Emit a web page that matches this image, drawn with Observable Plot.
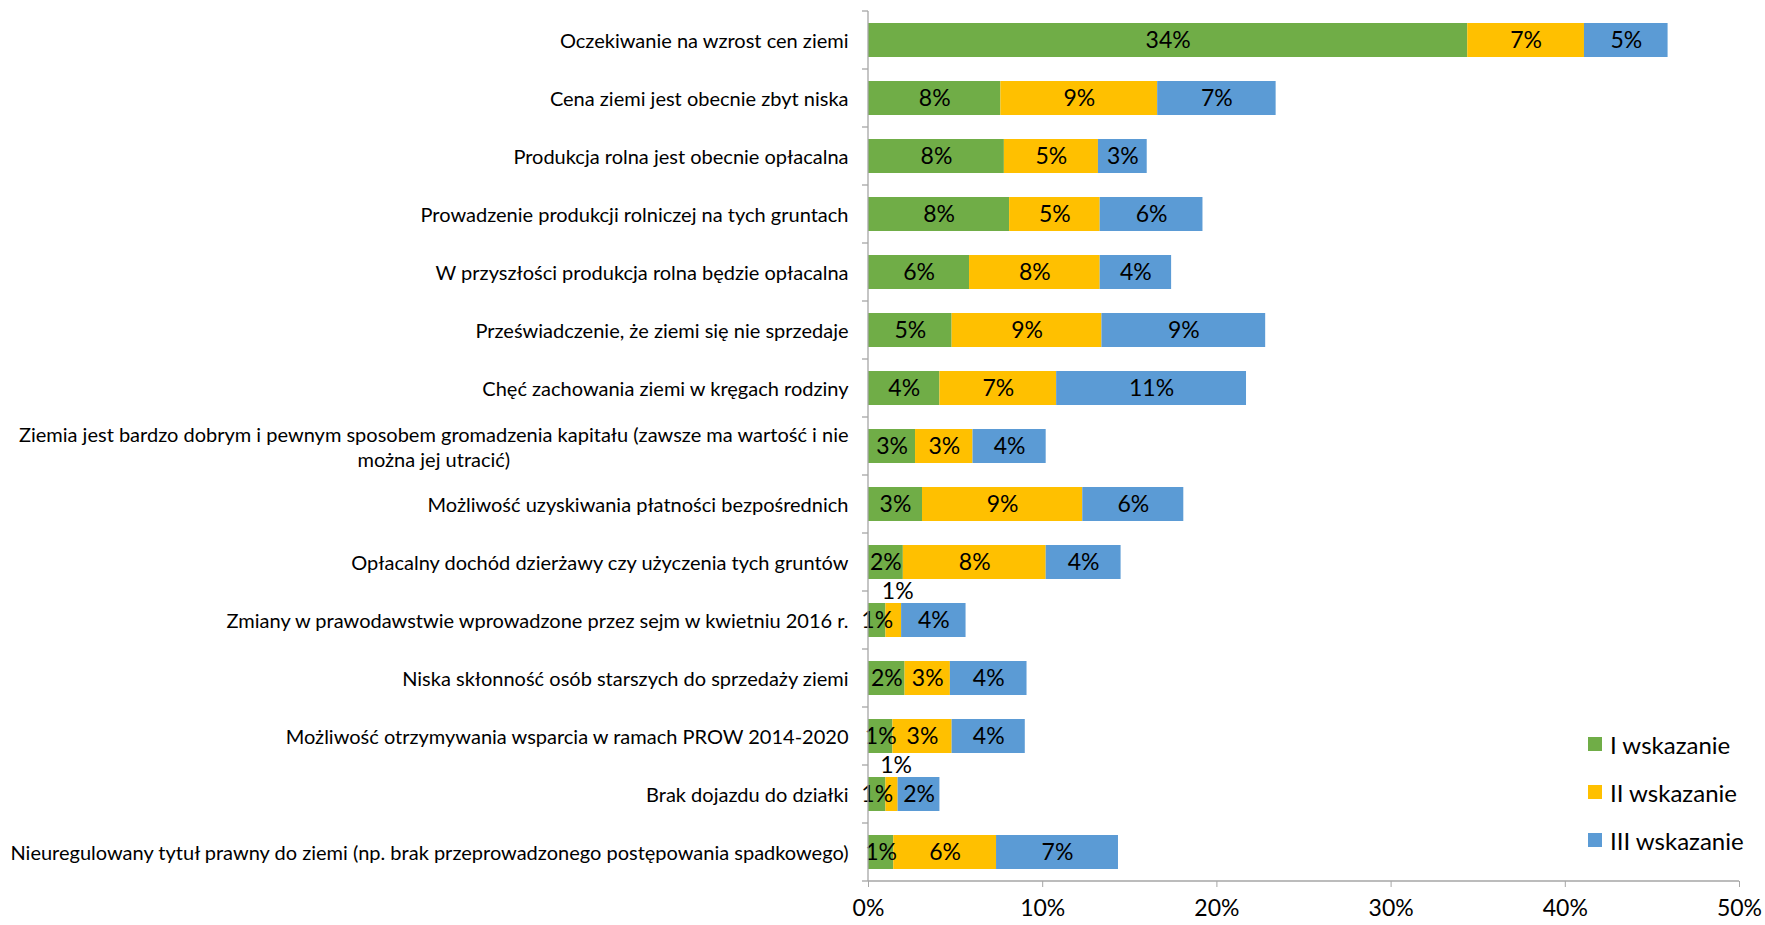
<!DOCTYPE html>
<html><head><meta charset="utf-8">
<script src="https://cdn.jsdelivr.net/npm/d3@7"></script>
<script src="https://cdn.jsdelivr.net/npm/@observablehq/plot@0.6"></script>
<style>
html,body{margin:0;padding:0;background:#fff;}
#wrap{position:relative;width:1765px;height:925px;font-family:Lato,"Open Sans",sans-serif;}
#legend{position:absolute;left:1588px;top:720px;font-size:24px;color:#000;}
.li{display:flex;align-items:center;height:48px;}
.sw{width:14px;height:14px;margin-right:8px;}
</style></head><body><div id="wrap"><div id="legend"></div></div>
<script>
const categories = [
  "Oczekiwanie na wzrost cen ziemi",
  "Cena ziemi jest obecnie zbyt niska",
  "Produkcja rolna jest obecnie opłacalna",
  "Prowadzenie produkcji rolniczej na tych gruntach",
  "W przyszłości produkcja rolna będzie opłacalna",
  "Przeświadczenie, że ziemi się nie sprzedaje",
  "Chęć zachowania ziemi w kręgach rodziny",
  "Ziemia jest bardzo dobrym i pewnym sposobem gromadzenia kapitału (zawsze ma wartość i nie\nmożna jej utracić)",
  "Możliwość uzyskiwania płatności bezpośrednich",
  "Opłacalny dochód dzierżawy czy użyczenia tych gruntów",
  "Zmiany w prawodawstwie wprowadzone przez sejm w kwietniu 2016 r.",
  "Niska skłonność osób starszych do sprzedaży ziemi",
  "Możliwość otrzymywania wsparcia w ramach PROW 2014-2020",
  "Brak dojazdu do działki",
  "Nieuregulowany tytuł prawny do ziemi (np. brak przeprowadzonego postępowania spadkowego)"
];
const seriesNames = ["I wskazanie", "II wskazanie", "III wskazanie"];
const seriesColors = ["#70AD47", "#FFC000", "#5B9BD5"];
const valuesI   = [34.4, 7.6, 7.8, 8.1, 5.8, 4.8, 4.1, 2.7, 3.1, 2.0, 1.0, 2.1, 1.4, 1.0, 1.45];
const valuesII  = [6.7, 9.0, 5.4, 5.2, 7.5, 8.6, 6.7, 3.3, 9.2, 8.2, 0.9, 2.6, 3.4, 0.7, 5.9];
const valuesIII = [4.8, 6.8, 2.8, 5.9, 4.1, 9.4, 10.9, 4.2, 5.8, 4.3, 3.7, 4.4, 4.2, 2.4, 7.0];
const xTicks = [0, 10, 20, 30, 40, 50];

const seriesValues = [valuesI, valuesII, valuesIII];
const data = [];
categories.forEach((c, i) => {
  seriesValues.forEach((arr, s) => data.push({cat: c, series: seriesNames[s], value: arr[i]}));
});
const fmt = v => Math.round(v) + "%";
const isAbove = d => d.series === seriesNames[1] && d.value < 1;

const axisGray = "#A6A6A6";
const axisLines = (index, scales, values, dims) => {
  const g = d3.create("svg:g").attr("stroke", axisGray).attr("stroke-width", 1.3);
  const x0 = scales.x(0), x1 = scales.x(xTicks[xTicks.length - 1]);
  const top = dims.marginTop, bottom = dims.height - dims.marginBottom;
  g.append("line").attr("x1", x0).attr("x2", x0).attr("y1", top).attr("y2", bottom);
  g.append("line").attr("x1", x0).attr("x2", x1).attr("y1", bottom).attr("y2", bottom);
  const n = categories.length, step = (bottom - top) / n;
  for (let k = 0; k <= n; k++) {
    const y = top + k * step;
    g.append("line").attr("x1", x0 - 6).attr("x2", x0).attr("y1", y).attr("y2", y);
  }
  return g.node();
};

const chart = Plot.plot({
  width: 1765,
  height: 925,
  marginLeft: 868,
  marginRight: 26,
  marginTop: 11,
  marginBottom: 44,
  style: {fontFamily: "Lato, 'Open Sans', sans-serif", background: "#fff", color: "#000"},
  x: {domain: [0, 50], axis: null},
  y: {domain: categories, paddingInner: 0.42, paddingOuter: 0.21, axis: null},
  color: {domain: seriesNames, range: seriesColors},
  marks: [
    Plot.barX(data, Plot.stackX({x: "value", y: "cat", fill: "series", order: null})),
    Plot.text(data, Plot.stackX({x: "value", y: "cat", order: null,
      text: d => isAbove(d) ? "" : fmt(d.value), fontSize: 23, fill: "#000"})),
    Plot.text(data, Plot.stackX({x: "value", y: "cat", order: null,
      text: d => isAbove(d) ? fmt(d.value) : "", fontSize: 23, fill: "#000", dy: -29, dx: 4})),
    axisLines,
    Plot.axisX({ticks: xTicks, tickFormat: d => d + "%", tickSize: 6, tickPadding: 12,
      fontSize: 23, stroke: axisGray, color: "#000", label: null}),
    Plot.axisY({tickSize: 0, tickPadding: 20, fontSize: 20, lineHeight: 1.22, color: "#000", label: null})
  ]
});
document.getElementById("wrap").appendChild(chart);

// center multi-line category labels like the original, keeping the right edge
chart.querySelectorAll("[aria-label='y-axis tick label'] text").forEach(t => {
  if (t.querySelectorAll("tspan").length > 1) {
    const b0 = t.getBBox();
    t.setAttribute("text-anchor", "middle");
    t.querySelectorAll("tspan").forEach(s => s.setAttribute("text-anchor", "middle"));
    const b1 = t.getBBox();
    const shift = (b0.x + b0.width) - (b1.x + b1.width);
    const tr = t.getAttribute("transform") || "";
    t.setAttribute("transform", tr + ` translate(${shift},0)`);
  }
});

const legend = document.getElementById("legend");
seriesNames.forEach((s, i) => {
  const row = document.createElement("div");
  row.className = "li";
  row.innerHTML = `<span class="sw" style="background:${seriesColors[i]}"></span><span>${s}</span>`;
  legend.appendChild(row);
});
</script>
</body></html>
